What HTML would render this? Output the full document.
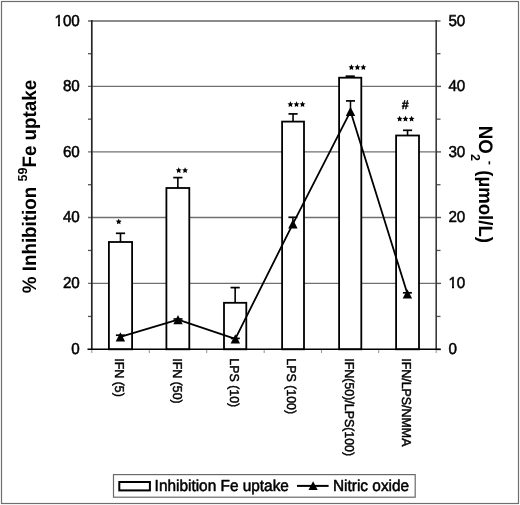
<!DOCTYPE html>
<html><head><meta charset="utf-8"><style>
html,body{margin:0;padding:0;background:#fff;width:520px;height:505px;overflow:hidden;}
svg{display:block;font-family:"Liberation Sans", sans-serif;will-change:transform;text-rendering:geometricPrecision;}
text{white-space:pre;}
</style></head><body>
<svg width="520" height="505" viewBox="0 0 520 505"><rect x="1.5" y="1.5" width="517" height="502" fill="none" stroke="#6e6e6e" stroke-width="1.2"/>
<line x1="88" y1="283.4" x2="436.2" y2="283.4" stroke="#707070" stroke-width="1.4"/>
<line x1="88" y1="217.5" x2="436.2" y2="217.5" stroke="#707070" stroke-width="1.4"/>
<line x1="88" y1="151.9" x2="436.2" y2="151.9" stroke="#707070" stroke-width="1.4"/>
<line x1="88" y1="86.4" x2="436.2" y2="86.4" stroke="#707070" stroke-width="1.4"/>
<line x1="88" y1="21.0" x2="440.5" y2="21.0" stroke="#666" stroke-width="1.7"/>
<line x1="436.2" y1="349.5" x2="441" y2="349.5" stroke="#555" stroke-width="1.4"/>
<line x1="436.2" y1="283.4" x2="441" y2="283.4" stroke="#555" stroke-width="1.4"/>
<line x1="436.2" y1="217.5" x2="441" y2="217.5" stroke="#555" stroke-width="1.4"/>
<line x1="436.2" y1="151.9" x2="441" y2="151.9" stroke="#555" stroke-width="1.4"/>
<line x1="436.2" y1="86.4" x2="441" y2="86.4" stroke="#555" stroke-width="1.4"/>
<line x1="88" y1="316.45" x2="91.8" y2="316.45" stroke="#555" stroke-width="1.3"/>
<line x1="436.2" y1="316.45" x2="440.5" y2="316.45" stroke="#555" stroke-width="1.3"/>
<line x1="88" y1="250.45" x2="91.8" y2="250.45" stroke="#555" stroke-width="1.3"/>
<line x1="436.2" y1="250.45" x2="440.5" y2="250.45" stroke="#555" stroke-width="1.3"/>
<line x1="88" y1="184.70" x2="91.8" y2="184.70" stroke="#555" stroke-width="1.3"/>
<line x1="436.2" y1="184.70" x2="440.5" y2="184.70" stroke="#555" stroke-width="1.3"/>
<line x1="88" y1="119.15" x2="91.8" y2="119.15" stroke="#555" stroke-width="1.3"/>
<line x1="436.2" y1="119.15" x2="440.5" y2="119.15" stroke="#555" stroke-width="1.3"/>
<line x1="88" y1="53.70" x2="91.8" y2="53.70" stroke="#555" stroke-width="1.3"/>
<line x1="436.2" y1="53.70" x2="440.5" y2="53.70" stroke="#555" stroke-width="1.3"/>
<line x1="91.80" y1="349.3" x2="91.80" y2="353" stroke="#999" stroke-width="1.1"/>
<line x1="149.30" y1="349.3" x2="149.30" y2="353" stroke="#999" stroke-width="1.1"/>
<line x1="206.70" y1="349.3" x2="206.70" y2="353" stroke="#999" stroke-width="1.1"/>
<line x1="264.20" y1="349.3" x2="264.20" y2="353" stroke="#999" stroke-width="1.1"/>
<line x1="321.50" y1="349.3" x2="321.50" y2="353" stroke="#999" stroke-width="1.1"/>
<line x1="378.70" y1="349.3" x2="378.70" y2="353" stroke="#999" stroke-width="1.1"/>
<line x1="436.20" y1="349.3" x2="436.20" y2="353" stroke="#999" stroke-width="1.1"/>
<line x1="120.50" y1="242.10" x2="120.50" y2="233.30" stroke="#000" stroke-width="1.6"/>
<line x1="115.90" y1="233.30" x2="125.10" y2="233.30" stroke="#000" stroke-width="1.7"/>
<rect x="108.90" y="242.00" width="23.20" height="107.30" fill="#fff" stroke="#000" stroke-width="1.8"/>
<line x1="177.85" y1="188.10" x2="177.85" y2="177.60" stroke="#000" stroke-width="1.6"/>
<line x1="173.25" y1="177.60" x2="182.45" y2="177.60" stroke="#000" stroke-width="1.7"/>
<rect x="166.40" y="188.00" width="22.90" height="161.30" fill="#fff" stroke="#000" stroke-width="1.8"/>
<line x1="235.15" y1="302.90" x2="235.15" y2="287.60" stroke="#000" stroke-width="1.6"/>
<line x1="230.55" y1="287.60" x2="239.75" y2="287.60" stroke="#000" stroke-width="1.7"/>
<rect x="224.00" y="302.80" width="22.30" height="46.50" fill="#fff" stroke="#000" stroke-width="1.8"/>
<line x1="293.05" y1="121.70" x2="293.05" y2="113.90" stroke="#000" stroke-width="1.6"/>
<line x1="288.45" y1="113.90" x2="297.65" y2="113.90" stroke="#000" stroke-width="1.7"/>
<rect x="282.10" y="121.60" width="21.90" height="227.70" fill="#fff" stroke="#000" stroke-width="1.8"/>
<line x1="350.20" y1="77.80" x2="350.20" y2="76.20" stroke="#000" stroke-width="1.6"/>
<line x1="345.60" y1="76.20" x2="354.80" y2="76.20" stroke="#000" stroke-width="1.7"/>
<rect x="339.10" y="77.70" width="22.20" height="271.60" fill="#fff" stroke="#000" stroke-width="1.8"/>
<line x1="407.55" y1="135.60" x2="407.55" y2="130.30" stroke="#000" stroke-width="1.6"/>
<line x1="402.95" y1="130.30" x2="412.15" y2="130.30" stroke="#000" stroke-width="1.7"/>
<rect x="396.10" y="135.50" width="22.90" height="213.80" fill="#fff" stroke="#000" stroke-width="1.8"/>
<line x1="91.8" y1="20" x2="91.8" y2="349.3" stroke="#262626" stroke-width="1.7"/>
<line x1="436.2" y1="20" x2="436.2" y2="349.3" stroke="#3a3a3a" stroke-width="1.6"/>
<line x1="87.5" y1="349.3" x2="440.5" y2="349.3" stroke="#000" stroke-width="1.5"/>
<line x1="120.4" y1="336.8" x2="120.4" y2="335.2" stroke="#000" stroke-width="1.5"/>
<line x1="115.9" y1="335.2" x2="124.9" y2="335.2" stroke="#000" stroke-width="1.7"/>
<line x1="178.0" y1="319.6" x2="178.0" y2="319.0" stroke="#000" stroke-width="1.5"/>
<line x1="173.5" y1="319.0" x2="182.5" y2="319.0" stroke="#000" stroke-width="1.7"/>
<line x1="235.3" y1="338.8" x2="235.3" y2="338.4" stroke="#000" stroke-width="1.5"/>
<line x1="230.8" y1="338.4" x2="239.8" y2="338.4" stroke="#000" stroke-width="1.7"/>
<line x1="292.9" y1="223.8" x2="292.9" y2="217.3" stroke="#000" stroke-width="1.5"/>
<line x1="288.4" y1="217.3" x2="297.4" y2="217.3" stroke="#000" stroke-width="1.7"/>
<line x1="350.5" y1="111.3" x2="350.5" y2="100.9" stroke="#000" stroke-width="1.5"/>
<line x1="346.0" y1="100.9" x2="355.0" y2="100.9" stroke="#000" stroke-width="1.7"/>
<line x1="407.4" y1="293.8" x2="407.4" y2="292.8" stroke="#000" stroke-width="1.5"/>
<line x1="402.9" y1="292.8" x2="411.9" y2="292.8" stroke="#000" stroke-width="1.7"/>
<polyline points="120.4,336.8 178.0,319.6 235.3,338.8 292.9,223.8 350.5,111.3 407.4,293.8" fill="none" stroke="#000" stroke-width="1.8" stroke-linejoin="round"/>
<polygon points="120.40,332.20 125.10,341.40 115.70,341.40" fill="#000"/>
<polygon points="178.00,315.00 182.70,324.20 173.30,324.20" fill="#000"/>
<polygon points="235.30,334.20 240.00,343.40 230.60,343.40" fill="#000"/>
<polygon points="292.90,219.20 297.60,228.40 288.20,228.40" fill="#000"/>
<polygon points="350.50,106.70 355.20,115.90 345.80,115.90" fill="#000"/>
<polygon points="407.40,289.20 412.10,298.40 402.70,298.40" fill="#000"/>
<polygon points="118.70,218.70 119.58,220.59 121.65,220.84 120.13,222.26 120.52,224.31 118.70,223.30 116.88,224.31 117.27,222.26 115.75,220.84 117.82,220.59" fill="#000"/>
<polygon points="178.70,167.30 179.58,169.19 181.65,169.44 180.13,170.86 180.52,172.91 178.70,171.90 176.88,172.91 177.27,170.86 175.75,169.44 177.82,169.19" fill="#000"/>
<polygon points="185.10,167.30 185.98,169.19 188.05,169.44 186.53,170.86 186.92,172.91 185.10,171.90 183.28,172.91 183.67,170.86 182.15,169.44 184.22,169.19" fill="#000"/>
<polygon points="290.40,101.30 291.28,103.19 293.35,103.44 291.83,104.86 292.22,106.91 290.40,105.90 288.58,106.91 288.97,104.86 287.45,103.44 289.52,103.19" fill="#000"/>
<polygon points="296.50,101.30 297.38,103.19 299.45,103.44 297.93,104.86 298.32,106.91 296.50,105.90 294.68,106.91 295.07,104.86 293.55,103.44 295.62,103.19" fill="#000"/>
<polygon points="302.50,101.30 303.38,103.19 305.45,103.44 303.93,104.86 304.32,106.91 302.50,105.90 300.68,106.91 301.07,104.86 299.55,103.44 301.62,103.19" fill="#000"/>
<polygon points="351.40,64.30 352.28,66.19 354.35,66.44 352.83,67.86 353.22,69.91 351.40,68.90 349.58,69.91 349.97,67.86 348.45,66.44 350.52,66.19" fill="#000"/>
<polygon points="357.40,64.30 358.28,66.19 360.35,66.44 358.83,67.86 359.22,69.91 357.40,68.90 355.58,69.91 355.97,67.86 354.45,66.44 356.52,66.19" fill="#000"/>
<polygon points="363.35,64.30 364.23,66.19 366.30,66.44 364.78,67.86 365.17,69.91 363.35,68.90 361.53,69.91 361.92,67.86 360.40,66.44 362.47,66.19" fill="#000"/>
<polygon points="399.65,115.80 400.53,117.69 402.60,117.94 401.08,119.36 401.47,121.41 399.65,120.40 397.83,121.41 398.22,119.36 396.70,117.94 398.77,117.69" fill="#000"/>
<polygon points="405.45,115.80 406.33,117.69 408.40,117.94 406.88,119.36 407.27,121.41 405.45,120.40 403.63,121.41 404.02,119.36 402.50,117.94 404.57,117.69" fill="#000"/>
<polygon points="411.60,115.80 412.48,117.69 414.55,117.94 413.03,119.36 413.42,121.41 411.60,120.40 409.78,121.41 410.17,119.36 408.65,117.94 410.72,117.69" fill="#000"/>
<text transform="translate(405.30,109.00)" font-size="12.5" font-weight="bold" text-anchor="middle" fill="#000" stroke="#000" stroke-width="0.4" stroke-linejoin="round">#</text>
<text transform="translate(79.80,354.00) scale(1.0,1.04)" font-size="15.2" text-anchor="end" fill="#000" stroke="#000" stroke-width="0.5" stroke-linejoin="round">0</text>
<text transform="translate(79.80,288.00) scale(1.0,1.04)" font-size="15.2" text-anchor="end" fill="#000" stroke="#000" stroke-width="0.5" stroke-linejoin="round">20</text>
<text transform="translate(79.80,222.00) scale(1.0,1.04)" font-size="15.2" text-anchor="end" fill="#000" stroke="#000" stroke-width="0.5" stroke-linejoin="round">40</text>
<text transform="translate(79.80,157.00) scale(1.0,1.04)" font-size="15.2" text-anchor="end" fill="#000" stroke="#000" stroke-width="0.5" stroke-linejoin="round">60</text>
<text transform="translate(79.80,91.00) scale(1.0,1.04)" font-size="15.2" text-anchor="end" fill="#000" stroke="#000" stroke-width="0.5" stroke-linejoin="round">80</text>
<text transform="translate(79.80,26.00) scale(1.0,1.04)" font-size="15.2" text-anchor="end" fill="#000" stroke="#000" stroke-width="0.5" stroke-linejoin="round">100</text><rect x="55" y="24" width="3" height="3" fill="#fff"/><rect x="60" y="24" width="3" height="3" fill="#fff"/>
<text transform="translate(448.40,354.00) scale(1.0,1.04)" font-size="15.2" fill="#000" stroke="#000" stroke-width="0.5" stroke-linejoin="round">0</text>
<text transform="translate(448.40,288.00) scale(1.0,1.04)" font-size="15.2" fill="#000" stroke="#000" stroke-width="0.5" stroke-linejoin="round">10</text><rect x="449" y="286" width="3" height="3" fill="#fff"/><rect x="454" y="286" width="3" height="3" fill="#fff"/>
<text transform="translate(448.40,222.00) scale(1.0,1.04)" font-size="15.2" fill="#000" stroke="#000" stroke-width="0.5" stroke-linejoin="round">20</text>
<text transform="translate(448.40,157.00) scale(1.0,1.04)" font-size="15.2" fill="#000" stroke="#000" stroke-width="0.5" stroke-linejoin="round">30</text>
<text transform="translate(448.40,91.00) scale(1.0,1.04)" font-size="15.2" fill="#000" stroke="#000" stroke-width="0.5" stroke-linejoin="round">40</text>
<text transform="translate(448.40,26.00) scale(1.0,1.04)" font-size="15.2" fill="#000" stroke="#000" stroke-width="0.5" stroke-linejoin="round">50</text>
<text transform="translate(115.10,358.30) rotate(90) scale(1.0,1.04)" font-size="12.4" fill="#000" stroke="#000" stroke-width="0.45" stroke-linejoin="round">IFN (5)</text>
<text transform="translate(172.50,358.30) rotate(90) scale(1.0,1.04)" font-size="12.4" fill="#000" stroke="#000" stroke-width="0.45" stroke-linejoin="round">IFN (50)</text>
<text transform="translate(229.90,358.30) rotate(90) scale(1.0,1.04)" font-size="12.4" fill="#000" stroke="#000" stroke-width="0.45" stroke-linejoin="round">LPS (10)</text>
<text transform="translate(287.30,358.30) rotate(90) scale(1.0,1.04)" font-size="12.4" fill="#000" stroke="#000" stroke-width="0.45" stroke-linejoin="round">LPS (100)</text>
<text transform="translate(344.70,358.30) rotate(90) scale(1.0,1.04)" font-size="12.4" fill="#000" stroke="#000" stroke-width="0.45" stroke-linejoin="round">IFN(50)/LPS(100)</text>
<text transform="translate(402.10,358.30) rotate(90) scale(1.0,1.04)" font-size="12.4" fill="#000" stroke="#000" stroke-width="0.45" stroke-linejoin="round">IFN/LPS/NMMA</text>
<text transform="translate(36.00,293.20) rotate(-90) scale(1.0,1.04)" font-size="18.8" font-weight="bold" fill="#000">% Inhibition </text>
<text transform="translate(27.30,181.46) rotate(-90) scale(1.0,1.04)" font-size="12.5" font-weight="bold" fill="#000">59</text>
<text transform="translate(36.00,167.56) rotate(-90) scale(1.0,1.04)" font-size="18.8" font-weight="bold" fill="#000">Fe uptake</text>
<text transform="translate(478.90,125.80) rotate(90) scale(1.0,1.04)" font-size="18.8" font-weight="bold" fill="#000">NO</text>
<text transform="translate(471.20,154.00) rotate(90) scale(1.0,1.04)" font-size="12.5" font-weight="bold" fill="#000">2</text>
<text transform="translate(486.30,160.65) rotate(90) scale(1.0,1.04)" font-size="12.5" font-weight="bold" fill="#000">-</text>
<text transform="translate(478.90,165.11) rotate(90) scale(1.0,1.04)" font-size="18.6" font-weight="bold" fill="#000"> (µmol/L)</text>
<rect x="113.5" y="474.6" width="301.7" height="22.6" fill="#fff" stroke="#6a6a6a" stroke-width="1.2"/>
<rect x="119.3" y="482" width="30.6" height="8.4" fill="#fff" stroke="#000" stroke-width="2"/>
<text transform="translate(154.60,491.20) scale(1.0,1.04)" font-size="15.4" fill="#000" stroke="#000" stroke-width="0.5" stroke-linejoin="round">Inhibition Fe uptake</text>
<line x1="297" y1="485.9" x2="328.6" y2="485.9" stroke="#000" stroke-width="2"/>
<polygon points="313.10,481.30 317.70,489.90 308.50,489.90" fill="#000"/>
<text transform="translate(333.00,491.20) scale(1.0,1.04)" font-size="15.4" fill="#000" stroke="#000" stroke-width="0.5" stroke-linejoin="round">Nitric oxide</text></svg>
</body></html>
